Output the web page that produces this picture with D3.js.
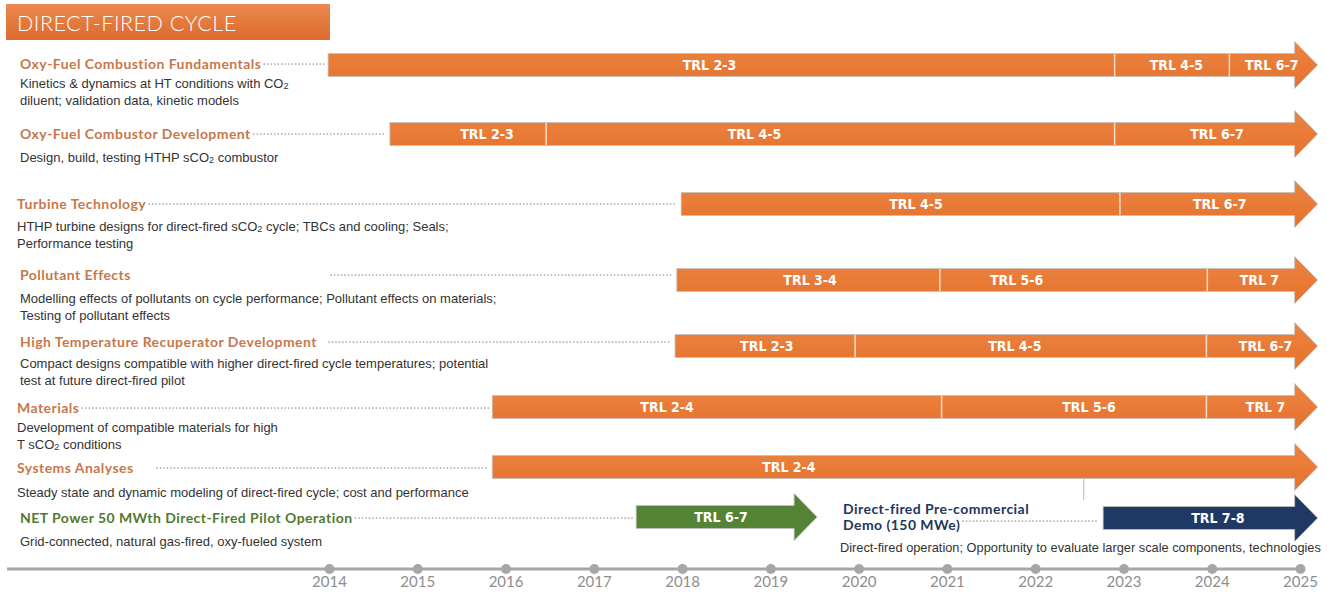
<!DOCTYPE html>
<html>
<head>
<meta charset="utf-8">
<script src="https://cdn.jsdelivr.net/npm/d3@7"></script>
<style>
  body { margin: 0; background: #fff; }
  svg { display: block; }
</style>
</head>
<body>
<svg id="roadmap-svg" width="1327" height="592"></svg>
<script>
const years = d3.range(2014, 2026);

const rowTitles = [
    "Oxy-Fuel Combustion Fundamentals",
    "Oxy-Fuel Combustor Development",
    "Turbine Technology",
    "Pollutant Effects",
    "High Temperature Recuperator Development",
    "Materials",
    "Systems Analyses",
    "NET Power 50 MWth Direct-Fired Pilot Operation"
];

const rowDescriptions = [
    ["Kinetics & dynamics at HT conditions with CO|2", "diluent; validation data, kinetic models"],
    ["Design, build, testing HTHP sCO|2| combustor"],
    ["HTHP turbine designs for direct-fired sCO|2| cycle; TBCs and cooling; Seals;", "Performance testing"],
    ["Modelling effects of pollutants on cycle performance; Pollutant effects on materials;", "Testing of pollutant effects"],
    ["Compact designs compatible with higher direct-fired cycle temperatures;  potential", "test at future direct-fired pilot"],
    ["Development of compatible materials for high", "T sCO|2| conditions"],
    ["Steady state and dynamic modeling of direct-fired cycle; cost and performance"],
    ["Grid-connected, natural gas-fired, oxy-fueled system"]
];

// start of each arrow (year)
const rowStarts = [2013.99, 2014.69, 2017.99, 2017.94, 2017.92, 2015.85, 2015.85, 2017.48];
// end of each TRL segment (year), last one = arrow tip
const segmentEnds = [
    [2022.90, 2024.20, 2025.20],
    [2016.46, 2022.90, 2025.20],
    [2022.96, 2025.20],
    [2020.92, 2023.95, 2025.20],
    [2019.96, 2023.94, 2025.20],
    [2020.94, 2023.94, 2025.20],
    [2025.20],
    [2019.53]
];
const segmentLabels = [
    ["TRL 2-3", "TRL 4-5", "TRL 6-7"],
    ["TRL 2-3", "TRL 4-5", "TRL 6-7"],
    ["TRL 4-5", "TRL 6-7"],
    ["TRL 3-4", "TRL 5-6", "TRL 7"],
    ["TRL 2-3", "TRL 4-5", "TRL 6-7"],
    ["TRL 2-4", "TRL 5-6", "TRL 7"],
    ["TRL 2-4"],
    ["TRL 6-7"]
];
// where each label sits (year)
const labelYears = [
    [2018.31, 2023.60, 2024.68],
    [2015.79, 2018.82, 2024.06],
    [2020.65, 2024.09],
    [2019.45, 2021.79, 2024.54],
    [2018.96, 2021.77, 2024.61],
    [2017.83, 2022.61, 2024.61],
    [2019.21],
    [2018.44]
];

const demoTitle = ["Direct-fired Pre-commercial", "Demo (150 MWe)"];
const demoDescription = "Direct-fired operation; Opportunity to evaluate larger scale components, technologies";
const demoStart = 2022.77;
const demoEnd = 2025.20;
const demoLabel = "TRL 7-8";
const demoLabelYear = 2024.07;
const connectorYear = 2022.55;

// ---- layout ----
const svg = d3.select("#roadmap-svg");

const x = d3.scaleLinear().domain([2014, 2025]).range([329, 1300]);

const barY = [65, 134, 204, 280, 346, 407, 467, 517];
const titleY = [63, 133, 203, 274, 341, 407, 467, 517];
const descY = [83, 157, 226, 298, 363, 427, 492, 541];
const titleX = [20, 20, 17, 20, 20, 17, 17, 20];
const leaderFrom = [0, 0, 0, 331, 329, 0, 157, 0];
const titleColors = d3.range(8).map(i => i === 7 ? "#527a2f" : "#c6784c");
const barColors = d3.range(8).map(i => i === 7 ? "#558335" : "url(#orangeFill)");

const barH = 23, headH = 47, headL = 23;

const titleFont = "Lato, 'DejaVu Sans', sans-serif";
const descFont = "'Liberation Sans Narrow', 'Liberation Sans', sans-serif";
const labelFont = "'DejaVu Sans Condensed', 'DejaVu Sans', sans-serif";

const defs = svg.append("defs");
const og = defs.append("linearGradient").attr("id", "orangeFill")
    .attr("x1", 0).attr("y1", 0).attr("x2", 0).attr("y2", 1);
og.append("stop").attr("offset", "0%").attr("stop-color", "#ec8443");
og.append("stop").attr("offset", "100%").attr("stop-color", "#e4722b");
const hg = defs.append("linearGradient").attr("id", "headerFill")
    .attr("x1", 0).attr("y1", 0).attr("x2", 0).attr("y2", 1);
hg.append("stop").attr("offset", "0%").attr("stop-color", "#ec8950");
hg.append("stop").attr("offset", "100%").attr("stop-color", "#dc6a2c");

// header box
svg.append("rect")
    .attr("x", 6).attr("y", 4).attr("width", 324).attr("height", 36)
    .attr("fill", "url(#headerFill)");
svg.append("text")
    .attr("x", 17).attr("y", 31)
    .attr("font-family", "Lato, 'Open Sans', sans-serif")
    .attr("font-weight", 300)
    .attr("font-size", 21.5)
    .attr("letter-spacing", 0.5)
    .attr("fill", "#fff")
    .text("DIRECT-FIRED CYCLE");

function arrowPath(x0, tip, cy) {
    const t = tip - headL;
    return d3.line()([
        [x0, cy - barH / 2], [t, cy - barH / 2], [t, cy - headH / 2], [tip, cy],
        [t, cy + headH / 2], [t, cy + barH / 2], [x0, cy + barH / 2]
    ]) + "Z";
}

// text with subscript "2" marked by | |
function richText(sel, str) {
    str.split("|").forEach((part, i) => {
        if (!part) return;
        if (i % 2 === 1) {
            sel.append("tspan").attr("font-size", "0.7em").attr("dy", 3).text(part);
        } else {
            sel.append("tspan").attr("dy", i > 0 ? -3 : 0).text(part);
        }
    });
}

function leader(x1, x2, y) {
    svg.append("line")
        .attr("x1", x1).attr("x2", x2).attr("y1", y).attr("y2", y)
        .attr("stroke", "#a59c98")
        .attr("stroke-width", 1.7)
        .attr("stroke-linecap", "round")
        .attr("stroke-dasharray", "0,3.5");
}

function trlLabel(text, xPos, y) {
    svg.append("text")
        .attr("x", xPos).attr("y", y)
        .attr("text-anchor", "middle")
        .attr("dominant-baseline", "central")
        .attr("font-family", labelFont)
        .attr("font-weight", "bold")
        .attr("font-size", 14)
        .attr("fill", "#fff")
        .text(text);
}

function boldTitle(str, xPos, y, color) {
    return svg.append("text")
        .attr("x", xPos).attr("y", y)
        .attr("dominant-baseline", "central")
        .attr("font-family", titleFont)
        .attr("font-weight", "bold")
        .attr("font-size", 14)
        .attr("letter-spacing", 0.45)
        .attr("fill", color)
        .text(str);
}

// rows
rowTitles.forEach((title, i) => {
    const t = boldTitle(title, titleX[i], titleY[i], titleColors[i]);
    const tEnd = titleX[i] + t.node().getComputedTextLength() + 3;
    leader(Math.max(tEnd, leaderFrom[i]), x(rowStarts[i]) - 4, titleY[i] + 1);

    rowDescriptions[i].forEach((line, j) => {
        const d = svg.append("text")
            .attr("x", titleX[i]).attr("y", descY[i] + j * 16.5)
            .attr("dominant-baseline", "central")
            .attr("font-family", descFont)
            .attr("font-size", 13)
            .attr("fill", "#333");
        richText(d, line);
    });

    const ends = segmentEnds[i];
    svg.append("path")
        .attr("d", arrowPath(x(rowStarts[i]), x(ends[ends.length - 1]), barY[i]))
        .attr("fill", barColors[i])
        .attr("stroke", "#c4c0bd")
        .attr("stroke-width", 0.8);

    ends.slice(0, -1).forEach(e => {
        svg.append("line")
            .attr("x1", x(e)).attr("x2", x(e))
            .attr("y1", barY[i] - barH / 2 + 0.5).attr("y2", barY[i] + barH / 2 - 0.5)
            .attr("stroke", "#f6dcc8").attr("stroke-width", 1.5);
    });

    segmentLabels[i].forEach((lab, j) => trlLabel(lab, x(labelYears[i][j]), barY[i]));
});

// thin grey connector under systems analyses
svg.append("line")
    .attr("x1", x(connectorYear)).attr("x2", x(connectorYear))
    .attr("y1", barY[6] + barH / 2).attr("y2", 500)
    .attr("stroke", "#b5b5b5").attr("stroke-width", 1);

// pre-commercial demo
demoTitle.forEach((line, j) => boldTitle(line, 843, 508 + j * 16, "#22365c"));
leader(963, x(demoStart) - 5, 521);
svg.append("text")
    .attr("x", 840).attr("y", 547)
    .attr("dominant-baseline", "central")
    .attr("font-family", descFont)
    .attr("font-size", 12.8)
    .attr("fill", "#333")
    .text(demoDescription);
svg.append("path")
    .attr("d", arrowPath(x(demoStart), x(demoEnd), 518))
    .attr("fill", "#1f3864")
    .attr("stroke", "#c4c0bd")
    .attr("stroke-width", 0.8);
trlLabel(demoLabel, x(demoLabelYear), 518);

// timeline axis
const axisY = 569;
svg.append("line")
    .attr("x1", 7).attr("x2", x(2025)).attr("y1", axisY).attr("y2", axisY)
    .attr("stroke", "#a6a6a6").attr("stroke-width", 3);
const axis = d3.axisBottom(x)
    .tickValues(years)
    .tickFormat(d3.format("d"))
    .tickSize(0)
    .tickPadding(7);
const ag = svg.append("g")
    .attr("transform", `translate(0, ${axisY})`)
    .call(axis);
ag.select(".domain").remove();
ag.selectAll(".tick text")
    .attr("font-family", "Lato, 'DejaVu Sans', sans-serif")
    .attr("font-size", 15)
    .attr("fill", "#8e8e8e");
ag.selectAll(".tick").append("circle")
    .attr("r", 5)
    .attr("fill", "#a6a6a6");
</script>
</body>
</html>
